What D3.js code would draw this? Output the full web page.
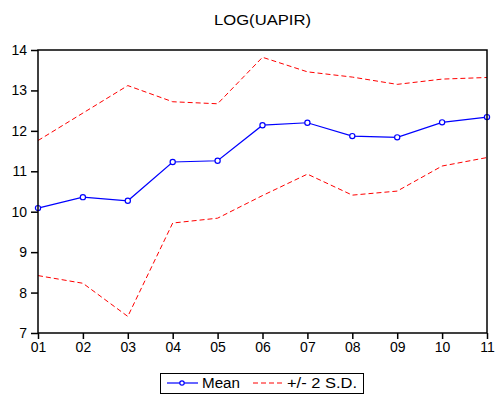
<!DOCTYPE html>
<html>
<head>
<meta charset="utf-8">
<script src="https://cdn.jsdelivr.net/npm/d3@7"></script>
<style>
  body { margin: 0; background: #fff; }
  svg { display: block; font-family: "Liberation Sans", Arial, sans-serif; }
</style>
</head>
<body>
<svg id="svg" width="498" height="394"></svg>
<script>
// chart data
var periods = ["01", "02", "03", "04", "05", "06", "07", "08", "09", "10", "11"];
var meanVals = [10.09, 10.36, 10.27, 11.23, 11.26, 12.14, 12.20, 11.87, 11.84, 12.21, 12.34];
var upperVals = [11.76, 12.44, 13.12, 12.72, 12.67, 13.82, 13.46, 13.33, 13.15, 13.28, 13.32];
var lowerVals = [8.42, 8.23, 7.41, 9.72, 9.84, 10.40, 10.93, 10.41, 10.51, 11.13, 11.34];
var yTicks = [7, 8, 9, 10, 11, 12, 13, 14];

var title = "LOG(UAPIR)";
var legendItems = ["Mean", "+/- 2 S.D."];

var margin = {top: 50, right: 11, bottom: 61, left: 38};
var width = 498, height = 394;
var gwidth = width - margin.left - margin.right;
var gheight = height - margin.top - margin.bottom;

var container = d3.select("#svg");
var svg = container.append("g")
    .attr("transform", "translate(" + margin.left + "," + margin.top + ")");

var x = d3.scalePoint()
    .domain(periods)
    .range([0, gwidth]);

var y = d3.scaleLinear()
    .domain([7, 14])
    .range([gheight, 0]);

function series(vals) {
    return vals.map(function(v, i) { return {x: periods[i], y: v}; });
}

var line = d3.line()
    .x(function(d) { return x(d.x); })
    .y(function(d) { return y(d.y); });

// title
container.append("text")
    .attr("x", margin.left + gwidth / 2)
    .attr("y", 25)
    .attr("text-anchor", "middle")
    .attr("font-size", 15)
    .attr("textLength", 97)
    .attr("lengthAdjust", "spacingAndGlyphs")
    .text(title);

// +/- 2 S.D. bands
[upperVals, lowerVals].forEach(function(vals) {
    svg.append("path").datum(series(vals))
        .attr("fill", "none")
        .attr("stroke", "#ff0000")
        .attr("stroke-width", 1)
        .attr("stroke-dasharray", "5,3")
        .attr("d", line);
});

// mean line
svg.append("path").datum(series(meanVals))
    .attr("fill", "none")
    .attr("stroke", "#0000ff")
    .attr("stroke-width", 1.2)
    .attr("d", line);

svg.selectAll(".pt")
    .data(series(meanVals))
    .enter().append("circle")
    .attr("class", "pt")
    .attr("cx", function(d) { return x(d.x); })
    .attr("cy", function(d) { return y(d.y); })
    .attr("r", 2.6)
    .attr("fill", "#fff")
    .attr("stroke", "#0000ff")
    .attr("stroke-width", 1.2);

// frame
svg.append("rect")
    .attr("width", gwidth)
    .attr("height", gheight)
    .attr("fill", "none")
    .attr("stroke", "#000")
    .attr("stroke-width", 1.5);

var xAxis = d3.axisBottom(x).tickSizeInner(6).tickSizeOuter(0).tickPadding(3);
var yAxis = d3.axisLeft(y).tickValues(yTicks).tickFormat(d3.format("d"))
    .tickSizeInner(7).tickSizeOuter(0).tickPadding(4);

var gx = svg.append("g")
    .attr("transform", "translate(0," + gheight + ")")
    .call(xAxis);
var gy = svg.append("g")
    .call(yAxis);

[gx, gy].forEach(function(g) {
    g.select(".domain").remove();
    g.selectAll(".tick line").attr("stroke", "#000").attr("stroke-width", 1.5);
    g.selectAll(".tick text")
        .attr("fill", "#000")
        .attr("font-size", 14)
        .attr("font-family", "Liberation Sans, Arial, sans-serif");
});

// legend
var legend = container.append("g");
legend.append("rect")
    .attr("x", 160.5)
    .attr("y", 373.5)
    .attr("width", 203)
    .attr("height", 20)
    .attr("fill", "#fff")
    .attr("stroke", "#000")
    .attr("stroke-width", 1);

legend.append("line")
    .attr("x1", 167).attr("x2", 198)
    .attr("y1", 383).attr("y2", 383)
    .attr("stroke", "#0000ff")
    .attr("stroke-width", 1.2);
legend.append("circle")
    .attr("cx", 182).attr("cy", 383).attr("r", 2.2)
    .attr("fill", "#fff")
    .attr("stroke", "#0000ff")
    .attr("stroke-width", 1.2);
legend.append("text")
    .attr("x", 202).attr("y", 388)
    .attr("font-size", 14)
    .attr("textLength", 38)
    .attr("lengthAdjust", "spacingAndGlyphs")
    .text(legendItems[0]);

legend.append("line")
    .attr("x1", 253).attr("x2", 282)
    .attr("y1", 383).attr("y2", 383)
    .attr("stroke", "#ff0000")
    .attr("stroke-width", 1)
    .attr("stroke-dasharray", "5,3");
legend.append("text")
    .attr("x", 287).attr("y", 388)
    .attr("font-size", 14)
    .attr("textLength", 70)
    .attr("lengthAdjust", "spacingAndGlyphs")
    .text(legendItems[1]);
</script>
</body>
</html>
